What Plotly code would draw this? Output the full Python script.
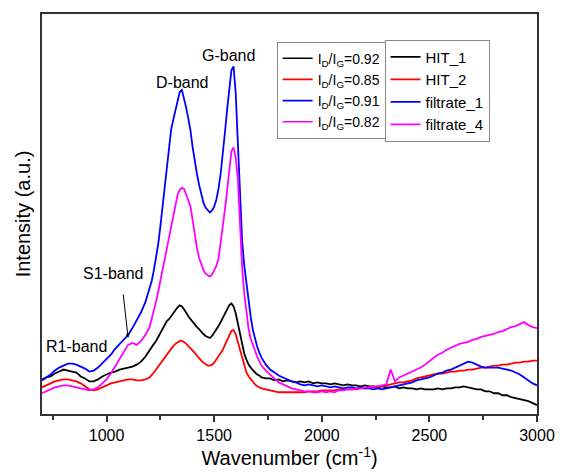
import plotly.graph_objects as go

# Raman shift grid (cm^-1)
wavenumber = list(range(700, 1200, 20)) + list(range(1200, 1720, 10)) + list(range(1720, 3001, 20))

hit_1 = [35, 37, 38, 41, 43, 45, 44, 43, 42, 38, 36, 33, 33, 35, 38, 40, 42, 43, 45, 46, 47, 48, 50, 53, 58,
         65, 68, 71, 74, 78, 82, 87, 91, 94, 96, 99, 103, 106, 108, 110, 109, 106, 102, 99, 96,
         93, 90, 88, 86, 83, 81, 79, 78, 77, 79, 82, 85, 89, 93, 97, 102, 106, 110, 112, 109,
         102, 91, 80, 70, 61, 55, 50, 47, 44, 42, 40, 39,
         37, 36, 36, 34, 35, 33, 34, 33, 32, 33, 32, 33, 31, 32, 31, 31, 30, 31, 30, 29,
         30, 29, 29, 28, 29, 28, 28, 27, 28, 27, 27, 28, 26, 27, 26, 26, 25, 26, 25, 25,
         25, 26, 25, 26, 26, 27, 27, 28, 27, 26, 25, 25, 23, 23, 21, 21, 19, 19, 17, 16,
         15, 14, 13, 11, 9]

hit_2 = [27, 29, 31, 33, 34, 35, 35, 34, 33, 31, 28, 25, 24, 25, 27, 29, 31, 32, 33, 34, 35, 35, 34, 34, 35,
         37, 39, 42, 45, 48, 52, 55, 58, 61, 63, 66, 69, 71, 73, 74, 74, 73, 71, 69, 67,
         65, 62, 59, 56, 54, 52, 50, 49, 49, 50, 52, 55, 58, 61, 65, 70, 75, 80, 84, 85,
         81, 73, 65, 57, 48, 42, 38, 35, 32, 30, 28, 27,
         26, 25, 24, 23, 22, 22, 22, 22, 22, 22, 22, 23, 23, 23, 24, 24, 24, 24, 25, 25,
         25, 25, 25, 26, 26, 27, 27, 28, 28, 29, 30, 31, 32, 32, 33, 34, 36, 37, 38, 39,
         40, 41, 41, 42, 43, 43, 44, 44, 45, 45, 46, 47, 47, 48, 49, 49, 50, 50, 51, 52,
         52, 53, 53, 54, 54]

filtrate_1 = [34, 37, 40, 44, 47, 49, 51, 51, 50, 48, 46, 43, 44, 47, 51, 55, 60, 66, 71, 75, 80, 87, 95, 103, 113,
              127, 135, 146, 158, 172, 190, 210, 232, 255, 273, 288, 298, 308, 318, 326, 328, 320, 310, 299, 287,
              270, 255, 243, 232, 222, 214, 209, 206, 204, 206, 210, 217, 228, 243, 262, 285, 308, 330, 348, 352,
              325, 275, 215, 175, 150, 132, 115, 98, 85, 76, 68, 62,
              57, 50, 45, 42, 39, 37, 35, 33, 32, 30, 29, 30, 29, 28, 29, 28, 27, 28, 27, 26,
              27, 27, 26, 27, 26, 26, 25, 26, 25, 26, 27, 28, 29, 30, 31, 32, 34, 35, 36, 37,
              39, 41, 42, 44, 45, 47, 49, 51, 53, 52, 50, 48, 47, 47, 47, 47, 46, 45, 44, 42,
              40, 37, 34, 31, 29]

filtrate_4 = [21, 23, 25, 27, 28, 29, 29, 28, 27, 26, 25, 24, 25, 27, 31, 35, 41, 48, 55, 63, 70, 72, 70, 74, 80,
              88, 96, 104, 114, 124, 135, 147, 157, 166, 178, 190, 200, 212, 222, 227, 229, 228, 222, 217, 210,
              196, 180, 168, 158, 151, 146, 142, 140, 139, 141, 145, 150, 157, 172, 192, 207, 226, 250, 266, 270,
              260, 238, 185, 148, 122, 103, 86, 76, 69, 64, 58, 53,
              49, 44, 40, 36, 32, 30, 28, 26, 25, 24, 23, 23, 22, 22, 23, 22, 23, 22, 24, 24,
              25, 25, 26, 26, 27, 27, 28, 28, 29, 30, 45, 33, 37, 39, 41, 43, 45, 47, 50, 54,
              57, 60, 62, 65, 67, 69, 71, 72, 73, 75, 76, 78, 79, 80, 81, 83, 84, 86, 88, 89,
              91, 93, 90, 88, 87]

series_names = ["HIT_1", "HIT_2", "filtrate_1", "filtrate_4"]
series_values = [hit_1, hit_2, filtrate_1, filtrate_4]
ratio_values = ["0.92", "0.85", "0.91", "0.82"]
colors = ["#000000", "#ff0000", "#0000ff", "#ff00ff"]

band_labels = ["D-band", "G-band", "S1-band", "R1-band"]
band_label_pos = [(1350, 336), (1568, 363), (1032, 142), (859, 68)]

FONT = "Arial, 'Liberation Sans', sans-serif"

fig = go.Figure()
for name, ys, c in zip(series_names, series_values, colors):
    fig.add_trace(go.Scatter(x=wavenumber, y=ys, mode="lines", name=name,
                             line=dict(color=c, width=1.8), legend="legend2"))
for r, c in zip(ratio_values, colors):
    fig.add_trace(go.Scatter(x=[None], y=[None], mode="lines",
                             name=f"I<sub>D</sub>/I<sub>G</sub>={r}",
                             line=dict(color=c, width=1.6), legend="legend"))

annotations = []
for txt, (ax_, ay_) in zip(band_labels, band_label_pos):
    annotations.append(dict(x=ax_, y=ay_, xref="x", yref="y", text=txt, showarrow=False,
                            font=dict(size=16, color="black", family=FONT)))
annotations.append(dict(x=1100, y=77, xref="x", yref="y", text="", showarrow=True,
                        ax=-5, ay=-45, arrowhead=2, arrowsize=0.8, arrowwidth=1, arrowcolor="black"))

axis_line = "#333333"
fig.update_layout(
    width=567, height=472,
    margin=dict(l=42, r=19, t=12, b=55),
    paper_bgcolor="white", plot_bgcolor="white",
    font=dict(family=FONT, color="black"),
    showlegend=True,
    legend=dict(x=0.474, y=0.931, xanchor="left", yanchor="top", bgcolor="white",
                bordercolor="#888888", borderwidth=1, font=dict(size=14), tracegroupgap=0),
    legend2=dict(x=0.692, y=0.936, xanchor="left", yanchor="top", bgcolor="white",
                 bordercolor="#888888", borderwidth=1, font=dict(size=15), tracegroupgap=0),
    annotations=annotations,
    xaxis=dict(range=[700, 3000], tick0=1000, dtick=500, ticks="outside", ticklen=6,
               tickwidth=1.5, tickcolor=axis_line,
               minor=dict(dtick=250, ticks="outside", ticklen=4, tickwidth=1.5, tickcolor=axis_line),
               showline=True, linecolor=axis_line, linewidth=1.5, mirror=True,
               showgrid=False, zeroline=False, tickfont=dict(size=16),
               title=dict(text="Wavenumber (cm<sup>-1</sup>)", font=dict(size=20), standoff=2)),
    yaxis=dict(range=[0, 405], showticklabels=False, ticks="", showline=True,
               linecolor=axis_line, linewidth=1.5, mirror=True, showgrid=False, zeroline=False,
               title=dict(text="Intensity (a.u.)", font=dict(size=20), standoff=4)),
)

fig.write_html("out.html")
